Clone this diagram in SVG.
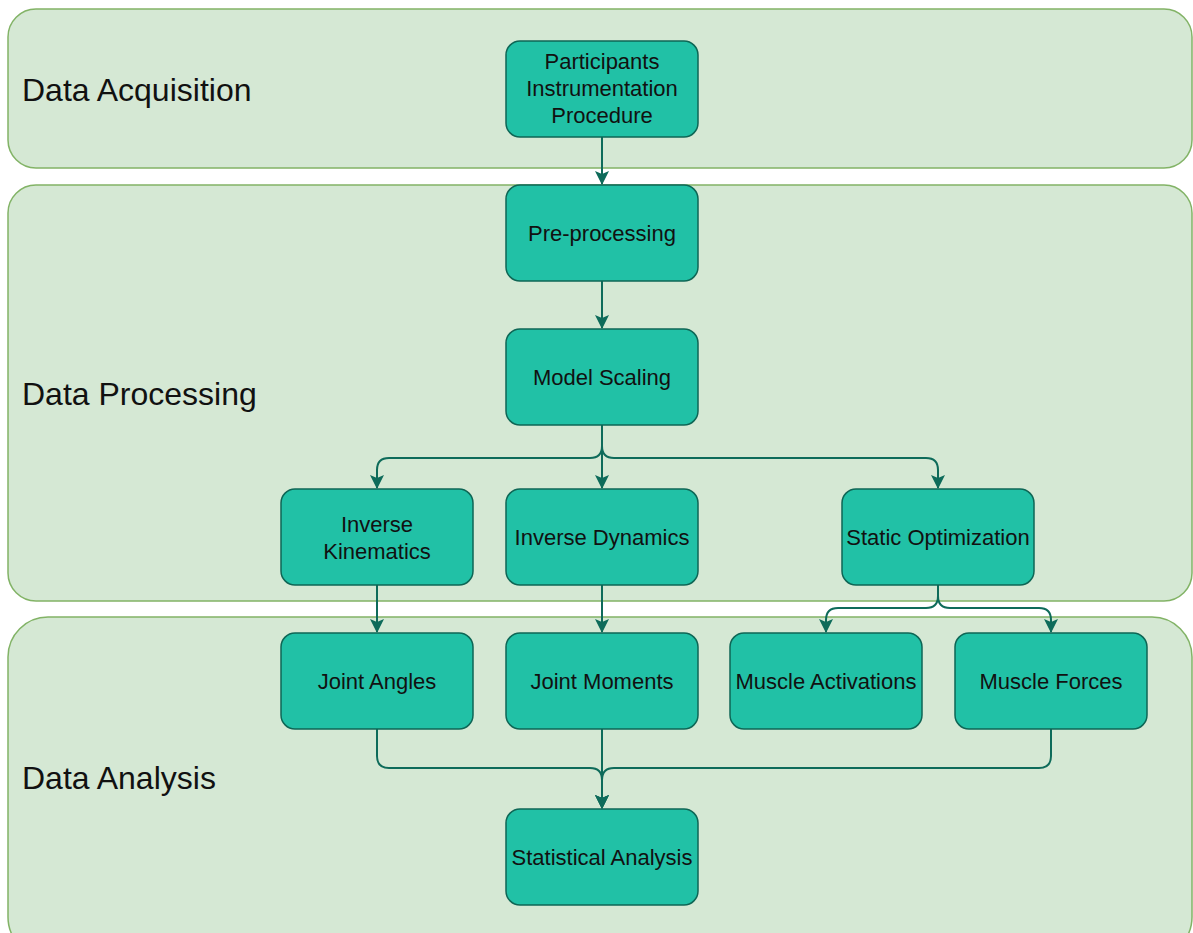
<svg xmlns="http://www.w3.org/2000/svg" width="1193" height="933" viewBox="0 0 1193 933">
<style>
.lane{fill:#d5e8d4;stroke:#82b366;stroke-width:1.5}
.lt{font-family:"Liberation Sans",Arial,sans-serif;font-size:32px;fill:#111}
.node rect{fill:#21c1a6;stroke:#0e6655;stroke-width:1.5}
.node text{font-family:"Liberation Sans",Arial,sans-serif;font-size:22px;fill:#111;text-anchor:middle}
.c path{fill:none;stroke:#0e6b5a;stroke-width:2;marker-end:url(#ah)}
</style>
<defs>
<marker id="ah" markerWidth="14" markerHeight="14" viewBox="0 0 14 14" refX="13" refY="7" orient="auto" markerUnits="userSpaceOnUse">
<path d="M0,0 L14,7 L0,14 L3,7 Z" fill="#0e6b5a"/>
</marker>
</defs>
<rect width="1193" height="933" fill="#ffffff"/>
<g id="lane-acq"><rect class="lane" x="8" y="9" width="1184" height="159" rx="28"/><text class="lt" x="22" y="101">Data Acquisition</text></g>
<g id="lane-proc"><rect class="lane" x="8" y="185" width="1184" height="416" rx="28"/><text class="lt" x="22" y="405">Data Processing</text></g>
<g id="lane-ana"><rect class="lane" x="8" y="617" width="1184" height="340" rx="40"/><text class="lt" x="22" y="789">Data Analysis</text></g>

<g class="c" id="connectors">
<path d="M602,137 V184"/>
<path d="M602,281 V328"/>
<path d="M602,425 V488"/>
<path d="M602,425 V446 Q602,458 590,458 H389 Q377,458 377,470 V488"/>
<path d="M602,425 V446 Q602,458 614,458 H926 Q938,458 938,470 V488"/>
<path d="M377,585 V632"/>
<path d="M602,585 V632"/>
<path d="M938,585 V596 Q938,608 926,608 H838 Q826,608 826,620 V632"/>
<path d="M938,585 V596 Q938,608 950,608 H1039 Q1051,608 1051,620 V632"/>
<path d="M602,729 V808"/>
<path d="M377,729 V756 Q377,768 389,768 H590 Q602,768 602,780 V808"/>
<path d="M1051,729 V756 Q1051,768 1039,768 H614 Q602,768 602,780 V808"/>
</g>

<g class="node" id="n-participants"><rect x="506" y="41" width="192" height="96" rx="14"/><text x="602" y="69">Participants</text><text x="602" y="96">Instrumentation</text><text x="602" y="123">Procedure</text></g>
<g class="node" id="n-preprocessing"><rect x="506" y="185" width="192" height="96" rx="14"/><text x="602" y="241">Pre-processing</text></g>
<g class="node" id="n-scaling"><rect x="506" y="329" width="192" height="96" rx="14"/><text x="602" y="385">Model Scaling</text></g>
<g class="node" id="n-ik"><rect x="281" y="489" width="192" height="96" rx="14"/><text x="377" y="532">Inverse</text><text x="377" y="559">Kinematics</text></g>
<g class="node" id="n-id"><rect x="506" y="489" width="192" height="96" rx="14"/><text x="602" y="545">Inverse Dynamics</text></g>
<g class="node" id="n-so"><rect x="842" y="489" width="192" height="96" rx="14"/><text x="938" y="545">Static Optimization</text></g>
<g class="node" id="n-ja"><rect x="281" y="633" width="192" height="96" rx="14"/><text x="377" y="689">Joint Angles</text></g>
<g class="node" id="n-jm"><rect x="506" y="633" width="192" height="96" rx="14"/><text x="602" y="689">Joint Moments</text></g>
<g class="node" id="n-ma"><rect x="730" y="633" width="192" height="96" rx="14"/><text x="826" y="689">Muscle Activations</text></g>
<g class="node" id="n-mf"><rect x="955" y="633" width="192" height="96" rx="14"/><text x="1051" y="689">Muscle Forces</text></g>
<g class="node" id="n-stat"><rect x="506" y="809" width="192" height="96" rx="14"/><text x="602" y="865">Statistical Analysis</text></g>
</svg>
